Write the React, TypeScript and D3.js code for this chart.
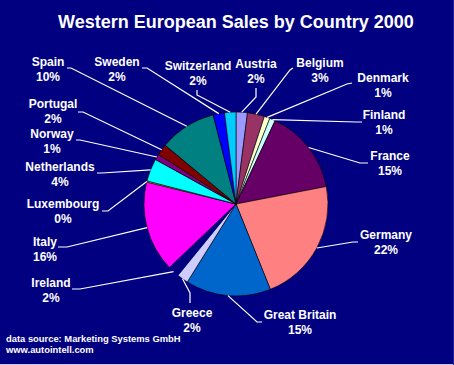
import React from "react";
import * as d3 from "d3";

const countries = [
  "Austria", "Belgium", "Denmark", "Finland", "France", "Germany",
  "Great Britain", "Greece", "Ireland", "Italy", "Luxembourg",
  "Netherlands", "Norway", "Portugal", "Spain", "Sweden", "Switzerland",
];
const sales = [2, 3, 1, 1, 15, 22, 15, 2, 2, 16, 0.2, 4, 1, 2, 10, 2, 2];
const colors = [
  "#9999FF", "#993366", "#FFFFCC", "#CCFFFF", "#660066", "#FF8080",
  "#0066CC", "#CCCCFF", "#000080", "#FF00FF", "#FFFF00", "#00FFFF",
  "#800080", "#800000", "#008080", "#0000FF", "#00CCFF",
];

// label placement: [text x, first baseline y, line start x, y, elbow x, y]
const labelLayout: number[][] = [
  [256, 68, 256, 88, 256, 97],
  [320, 67, 293, 68, 290, 70],
  [383, 82, 352, 83, 347, 84],
  [384, 119, 362, 122, 356, 122],
  [390, 160, 368, 163, 360, 163],
  [386, 239, 358, 242, 353, 242],
  [300, 319, 262, 322, 257, 322],
  [192, 317, 190, 303, 190, 293],
  [51, 287, 72, 289, 80, 289],
  [45, 246, 58, 247, 67, 247],
  [63, 208, 102, 211, 108, 211],
  [60, 171, 97, 173, 102, 173],
  [52, 138, 76, 140, 80, 140],
  [53, 108, 78, 112, 83, 112],
  [48, 66, 67, 68, 71, 68],
  [117, 66, 142, 68, 147, 68],
  [198, 70, 197, 90, 197, 95],
];

const W = 454;
const H = 365;
const cx = 236;
const cy = 204;
const r = 92;
const font = "Arial, 'Liberation Sans', sans-serif";

export default function App() {
  const total = d3.sum(sales);
  const pie = d3
    .pie<number>()
    .sort(null)
    .startAngle(0)
    .endAngle(2 * Math.PI)
    .value((d) => d);
  const arcs = pie(sales);
  const arc = d3.arc<d3.PieArcDatum<number>>().innerRadius(0).outerRadius(r);

  return (
    <svg
      width={W}
      height={H}
      style={{ position: "absolute", left: 0, top: 0, display: "block" }}
      fontFamily={font}
    >
      <rect width={W} height={H} fill="#000080" />
      <line x1={0} x2={W} y1={H - 0.5} y2={H - 0.5} stroke="#C8C8F0" />
      <line x1={W - 0.5} x2={W - 0.5} y1={0} y2={H} stroke="#2020A0" />
      <text
        x={236}
        y={28}
        textAnchor="middle"
        fill="#fff"
        fontWeight="bold"
        fontSize={18}
      >
        Western European Sales by Country 2000
      </text>
      <g transform={`translate(${cx},${cy})`}>
        {arcs.map((a, i) => (
          <path
            key={countries[i]}
            d={arc(a) || ""}
            fill={colors[i]}
            stroke={countries[i] === "Ireland" ? "#000080" : "#000"}
            strokeWidth={0.6}
          />
        ))}
      </g>
      {arcs.map((a, i) => {
        const [tx, ty, sx, sy, ex, ey] = labelLayout[i];
        const mid = (a.startAngle + a.endAngle) / 2;
        const px = cx + r * Math.sin(mid);
        const py = cy - r * Math.cos(mid);
        const pct = Math.round((sales[i] / total) * 100);
        return (
          <g key={countries[i]}>
            <polyline
              points={`${sx},${sy} ${ex},${ey} ${px},${py}`}
              fill="none"
              stroke="#fff"
              strokeWidth={1.2}
            />
            <text
              x={tx}
              y={ty}
              textAnchor="middle"
              fill="#fff"
              fontWeight="bold"
              fontSize={12}
            >
              {countries[i]}
            </text>
            <text
              x={tx}
              y={ty + 15}
              textAnchor="middle"
              fill="#fff"
              fontWeight="bold"
              fontSize={12}
            >
              {pct}%
            </text>
          </g>
        );
      })}
      <text x={6} y={342} fill="#fff" fontWeight="bold" fontSize={9.4}>
        data source: Marketing Systems GmbH
      </text>
      <text x={6} y={353} fill="#fff" fontWeight="bold" fontSize={9.4}>
        www.autointell.com
      </text>
    </svg>
  );
}
